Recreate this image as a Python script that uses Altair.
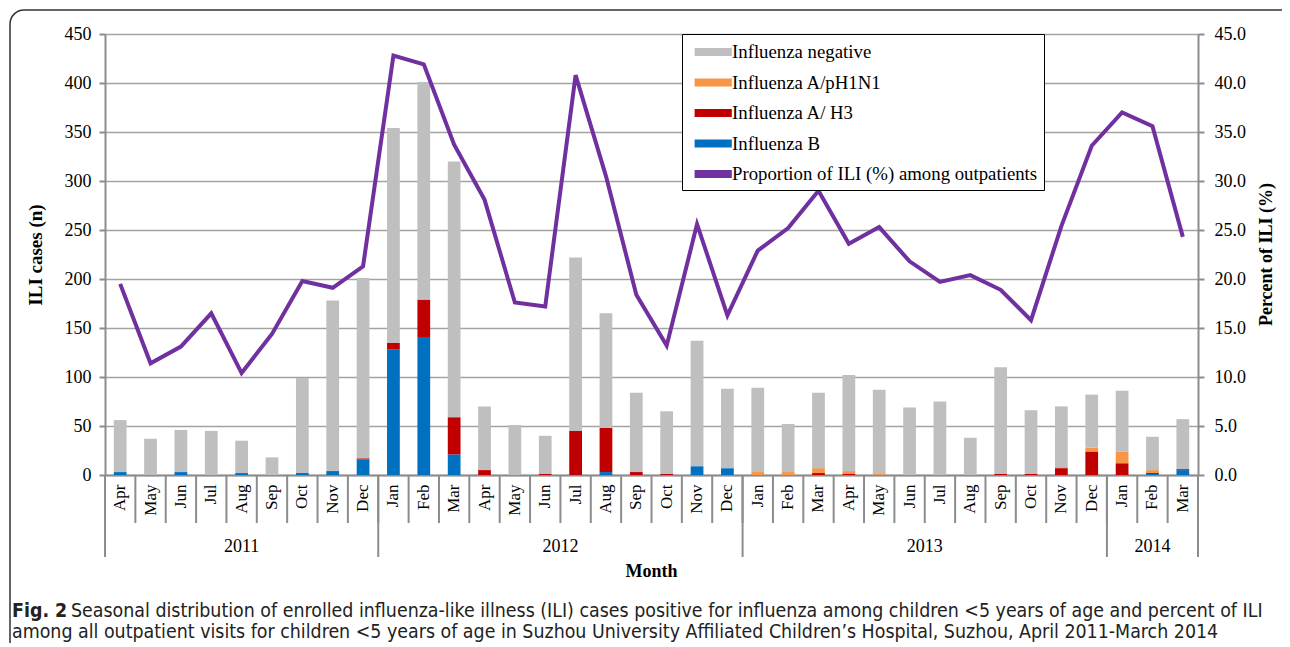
import altair as alt
import pandas as pd

# ---------------- data ----------------
years = [2011] * 9 + [2012] * 12 + [2013] * 12 + [2014] * 3
months = ["Apr", "May", "Jun", "Jul", "Aug", "Sep", "Oct", "Nov", "Dec",
          "Jan", "Feb", "Mar", "Apr", "May", "Jun", "Jul", "Aug", "Sep", "Oct", "Nov", "Dec",
          "Jan", "Feb", "Mar", "Apr", "May", "Jun", "Jul", "Aug", "Sep", "Oct", "Nov", "Dec",
          "Jan", "Feb", "Mar"]
flu_b = [3, 0, 3, 0, 2, 0, 2, 4, 16,
         128, 140, 21, 0, 0, 0, 0, 3, 0, 0, 9, 7,
         0, 0, 0, 0, 0, 0, 0, 0, 0, 0, 0, 0,
         0, 1, 5]
flu_h3 = [0, 0, 0, 0, 0, 0, 0, 0, 1,
          7, 39, 38, 5, 0, 1, 45, 45, 3, 1, 0, 0,
          0, 0, 2, 1, 0, 0, 0, 0, 1, 1, 7, 24,
          12, 1, 1]
flu_h1 = [0, 0, 0, 0, 0, 0, 0, 0, 0,
          0, 0, 0, 0, 0, 0, 0, 0, 0, 0, 0, 0,
          3, 3, 5, 3, 1, 0, 0, 0, 0, 0, 1, 4,
          12, 3, 0]
flu_neg = [53, 37, 43, 45, 33, 18, 97, 174, 184,
           219, 222, 261, 65, 51, 39, 177, 117, 81, 64, 128, 81,
           86, 49, 77, 98, 86, 69, 75, 38, 109, 65, 62, 54,
           62, 34, 51]
ili_pct = [19.5, 11.4, 13.1, 16.5, 10.4, 14.4, 19.8, 19.1, 21.3,
           42.8, 41.9, 33.7, 28.1, 17.6, 17.2, 40.8, 30.5, 18.4, 13.2, 25.6, 16.3,
           22.9, 25.2, 29.0, 23.6, 25.3, 21.8, 19.7, 20.4, 18.9, 15.8, 25.4, 33.6,
           37.0, 35.6, 24.3]

series_names = ["Influenza negative", "Influenza A/pH1N1", "Influenza A/ H3", "Influenza B",
                "Proportion of ILI (%) among outpatients"]
series_colors = ["#BFBFBF", "#F79646", "#C00000", "#0070C0", "#7030A0"]

year_labels = ["2011", "2012", "2013", "2014"]
year_label_at = ["2011-Aug", "2012-Jul", "2013-Jul", "2014-Feb"]
year_label_band = [0.5, 0.0, 0.0, 0.5]
year_starts = ["2011-Apr", "2012-Jan", "2013-Jan", "2014-Jan"]

caption_bold = "Fig. 2"
caption_1 = ("Seasonal distribution of enrolled influenza-like illness (ILI) cases positive for "
             "influenza among children <5 years of age and percent of ILI")
caption_2 = ("among all outpatient visits for children <5 years of age in Suzhou University "
             "Affiliated Children\u2019s Hospital, Suzhou, April 2011-March 2014")

# ---------------- tables ----------------
keys = [f"{y}-{m}" for y, m in zip(years, months)]
rows = []
for i, k in enumerate(keys):
    for order, (name, vals) in enumerate([("Influenza B", flu_b), ("Influenza A/ H3", flu_h3),
                                          ("Influenza A/pH1N1", flu_h1),
                                          ("Influenza negative", flu_neg)]):
        rows.append({"key": k, "series": name, "n": vals[i], "ord": order})
bars_df = pd.DataFrame(rows)
line_df = pd.DataFrame({"key": keys, "pct": ili_pct})
keys_df = pd.DataFrame({"key": keys})
ystart_df = pd.DataFrame({"key": year_starts})
yl_df = pd.DataFrame({"key": year_label_at, "label": year_labels, "band": year_label_band})

W, H = 1093, 441
SERIF = "Liberation Serif"
SANS = "Liberation Sans Narrow, DejaVu Sans Condensed, Lato, sans-serif"

xscale = alt.Scale(domain=keys, paddingInner=0, paddingOuter=0)
xaxis = alt.Axis(labelExpr="split(datum.value, '-')[1]", labelAngle=-90, labelAlign="right",
                 labelBaseline="middle", labelPadding=9, ticks=False, grid=False,
                 labelFont=SERIF, labelFontSize=17, labelColor="black",
                 domainColor="#8c8c8c", domainWidth=2, title=None)


def X(**kw):
    return alt.X("key:N", scale=xscale, axis=xaxis, **kw)


color_scale = alt.Scale(domain=series_names, range=series_colors)
legend = alt.Legend(orient="none", legendX=577, legendY=0, title=None,
                    fillColor="white", strokeColor="black", padding=6, rowPadding=8.5,
                    symbolType="M-0.45,-0.33H2.65V0.33H-0.45Z", symbolSize=576,
                    symbolStrokeWidth=0, labelOffset=20,
                    labelFont=SERIF, labelFontSize=18.8, labelColor="black", labelLimit=400)

bars = alt.Chart(bars_df).mark_bar(width=alt.RelativeBandSize(0.42)).encode(
    x=X(),
    y=alt.Y("n:Q", stack="zero",
            scale=alt.Scale(domain=[0, 450], nice=False),
            axis=alt.Axis(values=list(range(0, 451, 50)), format="d", orient="left",
                          title="ILI cases (n)", titleFont=SERIF, titleFontSize=19,
                          titleFontWeight="bold", titleColor="black", titlePadding=19,
                          labelFont=SERIF, labelFontSize=18, labelColor="black", labelPadding=8,
                          grid=True, gridColor="#a3a3a3", gridWidth=1.5,
                          domainColor="#8c8c8c", domainWidth=2,
                          tickColor="#8c8c8c", tickWidth=2, tickSize=6)),
    color=alt.Color("series:N", scale=color_scale, legend=legend),
    order=alt.Order("ord:Q"),
)

line = alt.Chart(line_df).mark_line(strokeWidth=4, strokeJoin="miter").encode(
    x=X(),
    y=alt.Y("pct:Q", scale=alt.Scale(domain=[0, 45], nice=False),
            axis=alt.Axis(values=list(range(0, 46, 5)), format=".1f", orient="right",
                          title=None,
                          labelFont=SERIF, labelFontSize=18, labelColor="black", labelPadding=10,
                          grid=False, domainColor="#8c8c8c", domainWidth=2,
                          tickColor="#8c8c8c", tickWidth=2, tickSize=6)),
    color=alt.datum("Proportion of ILI (%) among outpatients"),
)

month_sep = alt.Chart(keys_df).mark_rule(color="#8c8c8c", strokeWidth=2).encode(
    x=X(bandPosition=0), y=alt.value(H), y2=alt.value(H + 48))
year_sep = alt.Chart(ystart_df).mark_rule(color="#8c8c8c", strokeWidth=2).encode(
    x=X(bandPosition=0), y=alt.value(H), y2=alt.value(H + 82))
end_sep = alt.Chart(pd.DataFrame({"key": [keys[-1]]})).mark_rule(
    color="#8c8c8c", strokeWidth=2).encode(
    x=X(bandPosition=1), y=alt.value(H), y2=alt.value(H + 82))

yl_mid = alt.Chart(yl_df).transform_filter("datum.band == 0.5").mark_text(
    font=SERIF, fontSize=18, color="black", baseline="middle").encode(
    x=X(bandPosition=0.5), y=alt.value(H + 72), text="label:N")
yl_edge = alt.Chart(yl_df).transform_filter("datum.band == 0").mark_text(
    font=SERIF, fontSize=18, color="black", baseline="middle").encode(
    x=X(bandPosition=0), y=alt.value(H + 72), text="label:N")

one = pd.DataFrame({"t": [0]})
month_title = alt.Chart(one).mark_text(
    text="Month", font=SERIF, fontSize=18, fontWeight="bold", color="black",
    baseline="middle").encode(x=alt.value(W / 2), y=alt.value(H + 97))

right_title = alt.Chart(one).mark_text(
    text="Percent of ILI (%)", font=SERIF, fontSize=18, fontWeight="bold", color="black",
    angle=270, align="center", baseline="middle").encode(
    x=alt.value(W + 69), y=alt.value(H / 2))

cap_b = alt.Chart(one).mark_text(
    text=caption_bold, font=SANS, fontSize=19.4, fontWeight="bold", color="#222",
    align="left", baseline="middle").encode(x=alt.value(-93), y=alt.value(577))
cap_1 = alt.Chart(one).mark_text(
    text=caption_1, font=SANS, fontSize=19.4, color="#222",
    align="left", baseline="middle").encode(x=alt.value(-34), y=alt.value(577))
cap_2 = alt.Chart(one).mark_text(
    text=caption_2, font=SANS, fontSize=19.4, color="#222",
    align="left", baseline="middle").encode(x=alt.value(-93), y=alt.value(598))

frame = alt.Chart(one).mark_rect(
    fillOpacity=0, stroke="#333", strokeWidth=1.5, cornerRadius=14).encode(
    x=alt.value(-95), x2=alt.value(W + 300), y=alt.value(-24), y2=alt.value(H + 400))

chart = alt.layer(
    frame, bars, month_sep, year_sep, end_sep, yl_mid, yl_edge, line,
    month_title, right_title, cap_b, cap_1, cap_2,
).resolve_scale(y="independent").properties(
    width=W, height=H,
    padding={"left": 97, "top": 26, "right": 84, "bottom": 168},
    autosize=alt.AutoSizeParams(type="none"),
    background="white",
).configure_view(strokeWidth=0)

chart.save("out.html", embed_options={"renderer": "svg", "actions": False})
